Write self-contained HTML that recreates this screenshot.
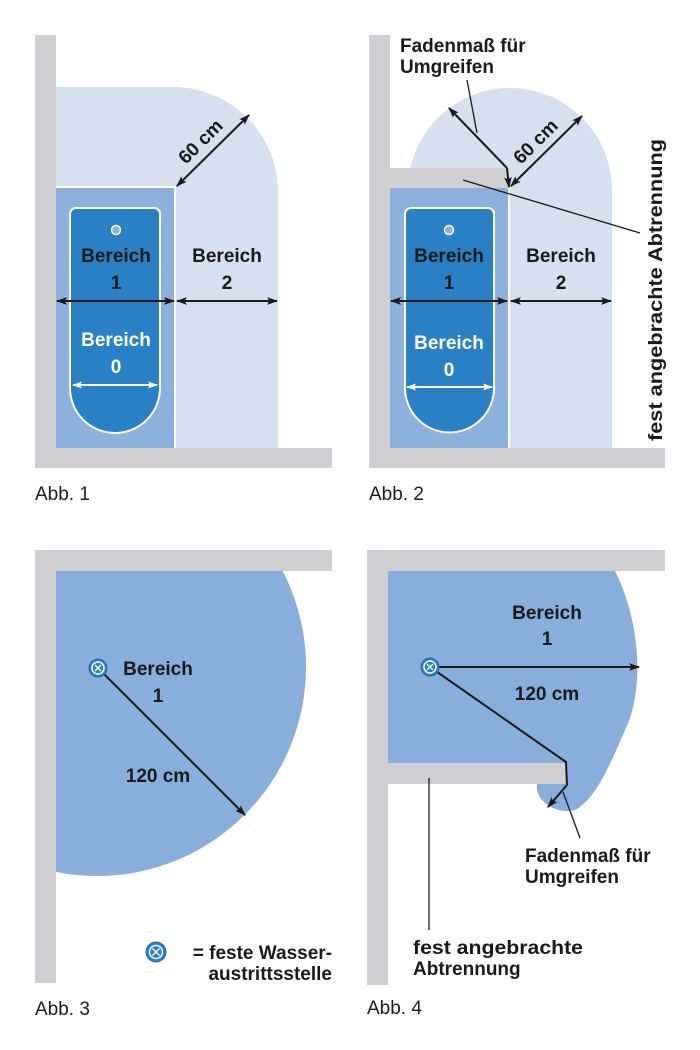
<!DOCTYPE html>
<html><head><meta charset="utf-8"><style>
html,body{margin:0;padding:0;background:#fff;}
svg{display:block;}
text{font-family:"Liberation Sans",sans-serif;}
.b{font-weight:bold;font-size:19px;fill:#1a1a1a;}
.w{font-weight:bold;font-size:19px;fill:#fff;}
.abb{font-size:19px;fill:#1a1a1a;}
</style></head><body>
<svg width="700" height="1050" viewBox="0 0 700 1050" xmlns="http://www.w3.org/2000/svg">
<defs>
<marker id="a" viewBox="0 0 10 10" refX="9" refY="5" markerWidth="11" markerHeight="11" orient="auto-start-reverse" markerUnits="userSpaceOnUse"><path d="M0,1.5 L10,5 L0,8.5 L2,5 z" fill="#1a1a1a"/></marker>
<marker id="aw" viewBox="0 0 10 10" refX="9" refY="5" markerWidth="10" markerHeight="10" orient="auto-start-reverse" markerUnits="userSpaceOnUse"><path d="M0,1.5 L10,5 L0,8.5 L2,5 z" fill="#fff"/></marker>
<clipPath id="c3"><rect x="56" y="571" width="300" height="400"/></clipPath>
</defs>

<!-- ABB 1 -->
<path d="M56,87 H173 A105,105 0 0 1 278,192 V448 H56 Z" fill="#d6e0f1"/>
<rect x="56" y="187" width="119" height="261" fill="#8db1dc"/>
<line x1="175" y1="187" x2="175" y2="448" stroke="#fff" stroke-width="2"/>
<line x1="56" y1="187" x2="176" y2="187" stroke="#fff" stroke-width="2"/>
<path d="M76,208 H154 A6,6 0 0 1 160,214 V388 A45,45 0 0 1 70,388 V214 A6,6 0 0 1 76,208 Z" fill="#2a80c4" stroke="#fff" stroke-width="2"/>
<circle cx="116" cy="230" r="4.5" fill="#8db1dc" stroke="#fff" stroke-width="1.5"/>
<rect x="35" y="35" width="21" height="433" fill="#cfcfd1"/>
<rect x="35" y="448" width="297" height="20" fill="#cfcfd1"/>
<text class="b" x="116" y="262" text-anchor="middle">Bereich</text>
<text class="b" x="116" y="289" text-anchor="middle">1</text>
<text class="b" x="227" y="262" text-anchor="middle">Bereich</text>
<text class="b" x="227" y="289" text-anchor="middle">2</text>
<text class="w" x="116" y="346" text-anchor="middle">Bereich</text>
<text class="w" x="116" y="373" text-anchor="middle">0</text>
<line x1="57" y1="301" x2="174" y2="301" stroke="#1a1a1a" stroke-width="2" marker-start="url(#a)" marker-end="url(#a)"/>
<line x1="177" y1="301" x2="277" y2="301" stroke="#1a1a1a" stroke-width="2" marker-start="url(#a)" marker-end="url(#a)"/>
<line x1="73" y1="385" x2="157" y2="385" stroke="#fff" stroke-width="2" marker-start="url(#aw)" marker-end="url(#aw)"/>
<line x1="177" y1="186" x2="249" y2="115" stroke="#1a1a1a" stroke-width="2" marker-start="url(#a)" marker-end="url(#a)"/>
<text class="b" x="0" y="0" text-anchor="middle" transform="translate(205,146) rotate(-45)">60 cm</text>
<text class="abb" x="35" y="500">Abb. 1</text>

<!-- ABB 2 -->
<path d="M408,448 V190 A102,102 0 0 1 612,190 V448 Z" fill="#d6e0f1"/>
<rect x="390" y="188" width="118" height="260" fill="#8db1dc"/>
<line x1="509" y1="188" x2="509" y2="448" stroke="#fff" stroke-width="2"/>
<path d="M411,208 H488 A6,6 0 0 1 494,214 V388 A44.5,44.5 0 0 1 405,388 V214 A6,6 0 0 1 411,208 Z" fill="#2a80c4" stroke="#fff" stroke-width="2"/>
<circle cx="449" cy="230" r="4.5" fill="#8db1dc" stroke="#fff" stroke-width="1.5"/>
<rect x="369" y="35" width="21" height="433" fill="#cfcfd1"/>
<rect x="369" y="448" width="296" height="20" fill="#cfcfd1"/>
<rect x="390" y="168" width="118" height="20" fill="#cfcfd1"/>
<text class="b" x="449" y="262" text-anchor="middle">Bereich</text>
<text class="b" x="449" y="289" text-anchor="middle">1</text>
<text class="b" x="561" y="262" text-anchor="middle">Bereich</text>
<text class="b" x="561" y="289" text-anchor="middle">2</text>
<text class="w" x="449" y="349" text-anchor="middle">Bereich</text>
<text class="w" x="449" y="376" text-anchor="middle">0</text>
<line x1="391" y1="301" x2="507" y2="301" stroke="#1a1a1a" stroke-width="2" marker-start="url(#a)" marker-end="url(#a)"/>
<line x1="511" y1="301" x2="611" y2="301" stroke="#1a1a1a" stroke-width="2" marker-start="url(#a)" marker-end="url(#a)"/>
<line x1="407" y1="387" x2="492" y2="387" stroke="#fff" stroke-width="2" marker-start="url(#aw)" marker-end="url(#aw)"/>
<line x1="511" y1="186" x2="582" y2="116" stroke="#1a1a1a" stroke-width="2" marker-start="url(#a)" marker-end="url(#a)"/>
<line x1="507" y1="168" x2="509" y2="187" stroke="#1a1a1a" stroke-width="2" marker-end="url(#a)"/>
<line x1="507" y1="168" x2="449" y2="108" stroke="#1a1a1a" stroke-width="2" marker-end="url(#a)"/>
<line x1="467" y1="80" x2="477" y2="133" stroke="#1a1a1a" stroke-width="1.3"/>
<line x1="463" y1="180" x2="640" y2="233" stroke="#1a1a1a" stroke-width="1.3"/>
<text class="b" x="0" y="0" text-anchor="middle" transform="translate(540,146) rotate(-45)">60 cm</text>
<text class="b" x="400" y="52">Fadenmaß für</text>
<text class="b" x="400" y="73">Umgreifen</text>
<text class="b" x="0" y="0" transform="translate(662,290) rotate(-90)" text-anchor="middle" textLength="302" lengthAdjust="spacingAndGlyphs">fest angebrachte Abtrennung</text>
<text class="abb" x="369" y="500">Abb. 2</text>

<!-- ABB 3 -->
<circle cx="97" cy="667" r="209" fill="#8aaedb" clip-path="url(#c3)"/>
<rect x="35" y="550" width="21" height="433" fill="#cfcfd1"/>
<rect x="35" y="550" width="297" height="21" fill="#cfcfd1"/>
<line x1="98" y1="668" x2="245" y2="815" stroke="#1a1a1a" stroke-width="2" marker-end="url(#a)"/>
<g transform="translate(98,668)"><circle r="9" fill="#2a80c4" stroke="#1c6bb0" stroke-width="1"/><circle r="6" fill="none" stroke="#fff" stroke-width="1.5"/><path d="M-3,-3 L3,3 M3,-3 L-3,3" stroke="#fff" stroke-width="1.3"/></g>
<text class="b" x="158" y="675" text-anchor="middle">Bereich</text>
<text class="b" x="158" y="702" text-anchor="middle">1</text>
<text class="b" x="158" y="782" text-anchor="middle">120 cm</text>
<g transform="translate(156,952)"><circle r="10" fill="#2a80c4" stroke="#1c6bb0" stroke-width="1"/><circle r="6.5" fill="none" stroke="#fff" stroke-width="1.5"/><path d="M-3.5,-3.5 L3.5,3.5 M3.5,-3.5 L-3.5,3.5" stroke="#fff" stroke-width="1.4"/></g>
<text class="b" x="332" y="959" text-anchor="end">= feste Wasser-</text>
<text class="b" x="332" y="980" text-anchor="end">austrittsstelle</text>
<text class="abb" x="35" y="1015">Abb. 3</text>

<!-- ABB 4 -->
<path d="M388,571 H615 C640,620 645,690 625,730 C610,765 595,800 575,810 C555,815 535,800 537,785 L537,763 H388 Z" fill="#8aaedb"/>
<rect x="367" y="550" width="21" height="435" fill="#cfcfd1"/>
<rect x="367" y="550" width="298" height="21" fill="#cfcfd1"/>
<rect x="388" y="763" width="179" height="21" fill="#cfcfd1"/>
<line x1="430" y1="667" x2="639" y2="667" stroke="#1a1a1a" stroke-width="2" marker-end="url(#a)"/>
<polyline points="430,667 566,762 567,785" fill="none" stroke="#1a1a1a" stroke-width="2"/>
<line x1="567" y1="785" x2="548" y2="807" stroke="#1a1a1a" stroke-width="2" marker-end="url(#a)"/>
<line x1="563" y1="792" x2="580" y2="838" stroke="#1a1a1a" stroke-width="1.3"/>
<line x1="429" y1="778" x2="429" y2="930" stroke="#1a1a1a" stroke-width="1.3"/>
<g transform="translate(430,667)"><circle r="9" fill="#2a80c4" stroke="#1c6bb0" stroke-width="1"/><circle r="6" fill="none" stroke="#fff" stroke-width="1.5"/><path d="M-3,-3 L3,3 M3,-3 L-3,3" stroke="#fff" stroke-width="1.3"/></g>
<text class="b" x="547" y="619" text-anchor="middle">Bereich</text>
<text class="b" x="547" y="645" text-anchor="middle">1</text>
<text class="b" x="547" y="700" text-anchor="middle">120 cm</text>
<text class="b" x="525" y="862">Fadenmaß für</text>
<text class="b" x="525" y="883">Umgreifen</text>
<text class="b" x="413" y="954" textLength="170" lengthAdjust="spacingAndGlyphs">fest angebrachte</text>
<text class="b" x="413" y="975">Abtrennung</text>
<text class="abb" x="367" y="1014">Abb. 4</text>
</svg>
</body></html>
